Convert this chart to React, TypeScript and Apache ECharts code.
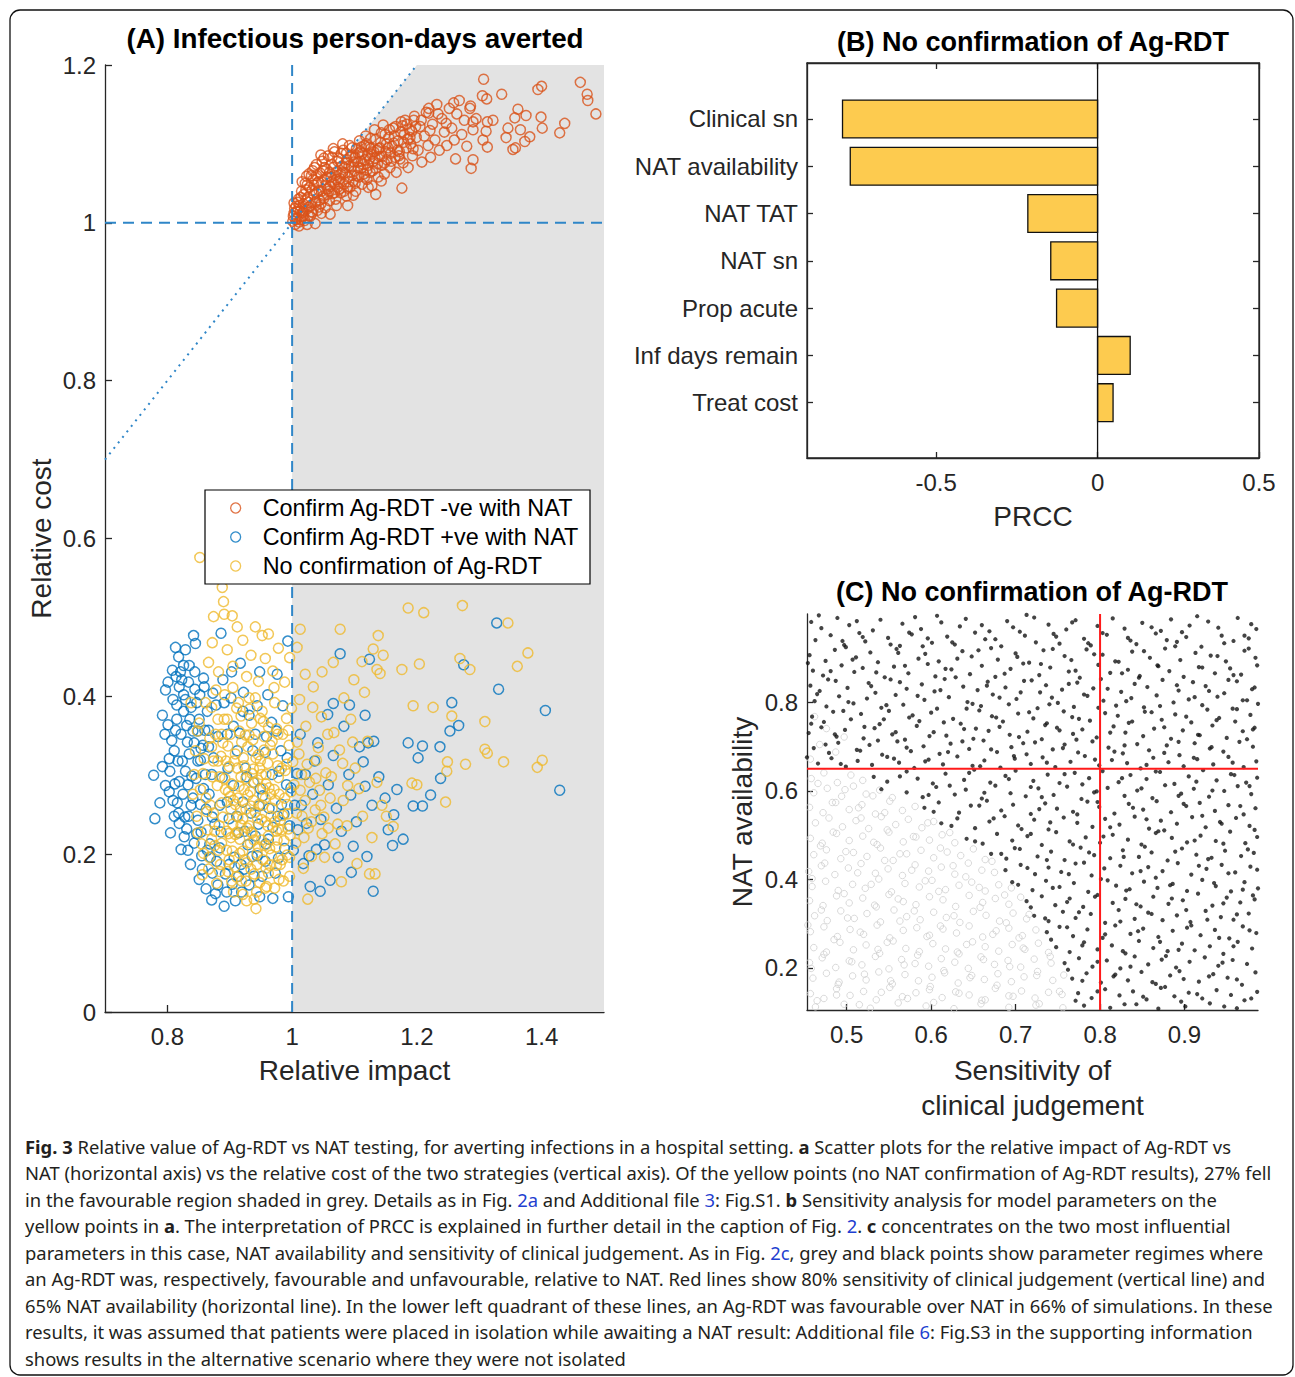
import React, { useEffect, useRef } from 'react';
import * as echarts from 'echarts';

const FONT = 'Liberation Sans';
const AX = '#262626';

// ---------- Panel A data ----------
const legendNames = ['Confirm Ag-RDT -ve with NAT', 'Confirm Ag-RDT +ve with NAT', 'No confirmation of Ag-RDT'];
const aXRange = [0.7, 1.5];
const aYRange = [0, 1.2];
const aTicksX = [0.8, 1, 1.2, 1.4];
const favourableEdge = [[1, 1], [1.2, 1.2], [1.5, 1.2]];
const diagLine = [[0.7, 0.7], [1.2, 1.2]];
const impactRef = [[1, 0], [1, 1.2]];
const costRef = [[0.7, 1], [1.5, 1]];

const orangePts = [
  [1.001,1.002],[1.003,1.012],[1.005,0.998],[1.006,1.021],[1.008,1.006],[1.010,1.030],[1.011,1.001],[1.013,1.015],[1.015,1.040],[1.016,1.008],[1.018,1.024],[1.020,1.003],[1.021,1.050],[1.023,1.017],[1.025,1.032],[1.026,1.009],[1.028,1.045],[1.030,1.022],[1.031,1.060],[1.033,1.013],[1.035,1.036],[1.036,1.070],[1.038,1.027],[1.040,1.050],[1.041,1.016],
  [1.043,1.041],[1.045,1.063],[1.046,1.024],[1.048,1.078],[1.050,1.034],[1.052,1.055],[1.053,1.019],[1.055,1.068],[1.057,1.043],[1.058,1.085],[1.060,1.028],[1.062,1.058],[1.063,1.074],[1.065,1.037],[1.067,1.050],[1.068,1.090],[1.070,1.030],[1.072,1.065],[1.073,1.045],[1.075,1.082],[1.077,1.056],[1.078,1.038],[1.080,1.072],
  [1.082,1.092],[1.083,1.049],[1.085,1.063],[1.087,1.034],[1.088,1.080],[1.090,1.058],[1.092,1.098],[1.093,1.045],[1.095,1.071],[1.097,1.086],[1.098,1.053],[1.100,1.066],[1.102,1.040],[1.103,1.094],[1.105,1.077],[1.107,1.058],[1.108,1.104],[1.110,1.069],[1.112,1.049],[1.113,1.088],[1.115,1.062],[1.117,1.080],[1.118,1.110],[1.120,1.055],[1.122,1.073],[1.123,1.096],[1.125,1.064],[1.127,1.087],[1.128,1.047],
  [1.130,1.078],[1.132,1.118],[1.134,1.069],[1.136,1.092],[1.138,1.058],[1.140,1.084],[1.142,1.102],[1.144,1.073],[1.146,1.124],[1.148,1.062],[1.150,1.090],[1.152,1.080],[1.155,1.108],[1.157,1.070],[1.160,1.097],[1.162,1.120],[1.165,1.083],[1.167,1.064],[1.170,1.104],[1.172,1.090],[1.175,1.128],[1.178,1.076],[1.180,1.112],[1.183,1.095],[1.186,1.070],[1.188,1.118],[1.190,1.100],[1.193,1.085],[1.196,1.135],[1.199,1.108],
  [1.202,1.092],[1.205,1.122],[1.208,1.077],[1.212,1.110],[1.215,1.140],[1.218,1.098],[1.222,1.083],[1.225,1.125],[1.229,1.105],[1.232,1.150],[1.236,1.092],[1.240,1.132],[1.244,1.115],[1.248,1.098],[1.252,1.145],[1.256,1.120],[1.260,1.105],[1.264,1.138],[1.268,1.155],[1.272,1.112],[1.276,1.130],[1.280,1.097],[1.285,1.145],[1.290,1.118],[1.295,1.132],
  [1.004,1.018],[1.009,1.026],[1.014,1.004],[1.019,1.036],[1.024,1.048],[1.029,1.008],[1.034,1.055],[1.039,1.038],[1.044,1.029],[1.049,1.066],[1.054,1.048],[1.059,1.040],[1.064,1.083],[1.069,1.060],[1.074,1.052],[1.079,1.088],[1.084,1.070],[1.089,1.044],[1.094,1.084],[1.099,1.077],[1.104,1.060],[1.109,1.090],[1.114,1.074],[1.119,1.100],[1.124,1.081],[1.129,1.066],[1.134,1.106],[1.139,1.094],[1.144,1.084],[1.149,1.112],[1.154,1.095],[1.159,1.078],[1.164,1.110],[1.169,1.092],[1.174,1.115],[1.179,1.102],[1.184,1.125],[1.189,1.108],[1.194,1.094],[1.198,1.122],
  [1.002,1.008],[1.007,1.014],[1.012,1.022],[1.017,1.013],[1.022,1.028],[1.027,1.020],[1.032,1.041],[1.037,1.025],[1.042,1.052],[1.047,1.040],[1.051,1.031],[1.056,1.058],[1.061,1.046],[1.066,1.070],[1.071,1.055],[1.076,1.043],[1.081,1.064],[1.086,1.076],[1.091,1.052],[1.096,1.095],[1.101,1.083],[1.106,1.070],[1.111,1.096],[1.116,1.058],[1.121,1.086],[1.126,1.107],[1.131,1.090],[1.137,1.075],[1.143,1.114],[1.151,1.100],[1.158,1.088],[1.166,1.122],[1.173,1.081],[1.181,1.130],[1.192,1.116],[1.207,1.130],[1.221,1.117],[1.234,1.138],[1.247,1.126],[1.259,1.152],[1.016,1.052],[1.027,1.062],[1.039,1.074],[1.051,1.082],[1.066,1.094],[1.081,1.100],[1.011,0.996],[1.047,1.012],[1.071,1.022],[1.098,1.035],[1.122,1.045],[1.143,1.053],
  [1.003,1.025],[1.006,1.004],[1.010,1.017],[1.014,1.032],[1.018,1.009],[1.022,1.042],[1.026,1.026],[1.031,1.014],[1.035,1.048],[1.039,1.060],[1.043,1.020],[1.047,1.052],[1.052,1.070],[1.056,1.036],[1.060,1.064],[1.064,1.052],[1.068,1.038],[1.073,1.078],[1.078,1.062],[1.083,1.040],[1.087,1.088],[1.091,1.072],[1.096,1.060],[1.101,1.050],[1.106,1.088],[1.111,1.078],[1.116,1.098],[1.120,1.067],[1.126,1.094],[1.133,1.082],[1.141,1.095],[1.148,1.076],[1.156,1.118],[1.163,1.101],[1.171,1.085],[1.177,1.123],[1.186,1.106],[1.023,1.059],[1.033,1.066],[1.046,1.086],
  [1.307,1.182],[1.394,1.169],[1.400,1.173],[1.462,1.178],[1.473,1.163],[1.474,1.155],[1.487,1.138],[1.336,1.163],[1.305,1.161],[1.312,1.157],[1.286,1.148],[1.362,1.144],[1.375,1.136],[1.357,1.133],[1.399,1.134],[1.401,1.120],[1.437,1.126],[1.429,1.114],[1.346,1.120],[1.343,1.108],[1.366,1.118],[1.381,1.109],[1.373,1.103],[1.354,1.093],[1.358,1.095],[1.313,1.128],[1.322,1.130],[1.311,1.116],[1.306,1.105],[1.313,1.096],[1.290,1.080],[1.287,1.069],[1.262,1.081],[1.290,1.128],[1.219,1.145],[1.219,1.139],[1.195,1.130],[1.176,1.044],[1.134,1.036],[1.089,1.022],[1.037,0.999],[1.024,0.998],[1.061,1.011]
];

const bluePts = [
  [0.797,0.408],[0.792,0.376],[0.778,0.300],[0.792,0.311],[0.788,0.265],[0.780,0.245],[0.805,0.227],
  [0.813,0.462],[0.829,0.459],[0.818,0.450],[0.842,0.477],[0.845,0.467],[0.886,0.480],
  [0.821,0.431],[0.834,0.418],[0.809,0.396],[0.826,0.402],[0.838,0.386],[0.815,0.371],[0.847,0.392],[0.831,0.363],[0.851,0.371],[0.822,0.352],[0.807,0.344],[0.843,0.341],[0.860,0.357],[0.835,0.327],[0.817,0.318],[0.853,0.319],[0.829,0.305],[0.866,0.336],[0.812,0.289],[0.846,0.296],[0.825,0.276],[0.858,0.283],[0.838,0.262],[0.818,0.252],[0.871,0.301],[0.849,0.243],[0.831,0.232],[0.862,0.257],[0.843,0.214],[0.876,0.238],[0.855,0.198],[0.822,0.206],[0.868,0.213],[0.837,0.187],[0.884,0.262],[0.851,0.168],[0.879,0.191],[0.862,0.156],[0.893,0.175],[0.871,0.142],[0.877,0.150],[0.891,0.134],[0.904,0.162],[0.948,0.146],[0.969,0.144],[0.994,0.146],[0.919,0.152],
  [0.811,0.331],[0.824,0.318],[0.803,0.279],[0.833,0.288],[0.816,0.265],[0.828,0.247],[0.841,0.356],[0.857,0.338],[0.813,0.357],[0.826,0.381],[0.852,0.402],[0.835,0.439],[0.858,0.423],[0.819,0.412],[0.873,0.404],[0.864,0.381],
  [0.801,0.418],[0.808,0.433],[0.815,0.389],[0.823,0.421],[0.829,0.396],[0.836,0.371],[0.844,0.409],[0.849,0.356],[0.854,0.334],[0.861,0.301],[0.867,0.276],[0.874,0.322],[0.881,0.349],[0.888,0.297],[0.796,0.352],[0.803,0.321],[0.809,0.268],[0.819,0.239],[0.827,0.222],[0.834,0.248],[0.841,0.271],[0.847,0.226],[0.856,0.181],[0.864,0.205],[0.872,0.176],[0.881,0.161],[0.895,0.152],[0.909,0.141],[0.931,0.161],[0.952,0.172],[0.978,0.195],[0.996,0.236],[0.991,0.288],[0.982,0.331],[0.967,0.367],[0.944,0.388],[0.922,0.405],[0.903,0.431],[0.896,0.266],[0.911,0.248],[0.927,0.298],[0.949,0.283],[0.963,0.258],[0.918,0.187],[0.941,0.223],
  [0.804,0.305],[0.811,0.248],[0.814,0.425],[0.819,0.292],[0.826,0.439],[0.832,0.342],[0.839,0.299],[0.844,0.431],[0.849,0.318],[0.853,0.263],[0.859,0.412],[0.866,0.357],[0.872,0.247],[0.878,0.389],[0.797,0.287],[0.801,0.364],[0.833,0.205],[0.854,0.228],[0.869,0.196],[0.884,0.208],[0.899,0.187],[0.914,0.172],[0.936,0.197],[0.958,0.213],[0.969,0.234],[0.987,0.251],[0.998,0.284],[0.979,0.305],[0.959,0.349],[0.937,0.331],[0.921,0.381],[0.906,0.362],[0.891,0.392],[0.924,0.229],[0.947,0.261],[1.002,0.205],[1.008,0.302],[1.015,0.262],[1.023,0.239],[1.039,0.206],
  [0.889,0.421],[0.902,0.398],[0.917,0.442],[0.931,0.376],[0.896,0.352],[0.912,0.331],[0.925,0.309],[0.941,0.352],[0.957,0.329],[0.906,0.287],[0.921,0.266],[0.938,0.291],[0.953,0.274],[0.968,0.301],[0.899,0.245],[0.914,0.227],[0.929,0.212],[0.946,0.238],[0.962,0.219],[0.977,0.248],[0.907,0.196],[0.923,0.181],[0.939,0.172],[0.957,0.191],[0.973,0.176],[0.988,0.207],[0.983,0.263],[0.992,0.322],[0.975,0.356],[0.961,0.402],[0.948,0.431],[0.976,0.428],[0.993,0.470],[0.985,0.388],[0.934,0.252],[0.944,0.198],[0.916,0.353],[0.897,0.309],[0.886,0.228],
  [1.004,0.262],[1.009,0.231],[1.021,0.301],[1.027,0.198],[1.033,0.276],[1.041,0.341],[1.046,0.244],[1.052,0.212],[1.058,0.288],[1.066,0.325],[1.071,0.258],[1.079,0.229],[1.083,0.362],[1.091,0.301],[1.094,0.275],[1.103,0.241],[1.108,0.336],[1.114,0.317],[1.117,0.286],[1.128,0.262],[1.131,0.343],[1.139,0.298],[1.149,0.271],[1.154,0.231],[1.168,0.282],[1.178,0.219],[1.161,0.211],[1.194,0.261],[1.209,0.261],[1.238,0.296],[1.237,0.336],[1.209,0.337],[1.267,0.363],[1.253,0.356],[1.256,0.392],[1.222,0.275],[1.202,0.322],[1.186,0.341],[1.163,0.250],[1.120,0.197],[1.098,0.210],[1.095,0.177],[1.061,0.167],[1.029,0.159],[1.045,0.153],[1.130,0.153],[1.117,0.376],[1.066,0.391],[1.092,0.389],[1.122,0.341],[1.077,0.454],[1.124,0.447],[1.275,0.440],[1.328,0.493],[1.331,0.409],[1.406,0.382],[1.429,0.281],[1.013,0.352],[1.036,0.318],[1.057,0.377],[1.018,0.188],[1.074,0.196]
];

const yellowPts = [
  [0.852,0.576],[0.888,0.538],[0.890,0.520],[0.874,0.501],[0.891,0.504],[0.904,0.502],[0.941,0.488],[0.912,0.488],[0.952,0.477],[0.962,0.479],[1.013,0.485],[1.077,0.485],[1.138,0.477],[1.186,0.512],[1.211,0.506],[1.273,0.515],[1.346,0.493],[1.378,0.455],[1.269,0.448],[1.285,0.434],[1.361,0.438],[1.204,0.441],[1.176,0.434],[1.146,0.452],[1.130,0.460],[1.112,0.444],[1.066,0.443],[1.099,0.421],[1.136,0.434],[1.141,0.429],
  [0.872,0.468],[0.896,0.459],[0.921,0.471],[0.934,0.452],[0.957,0.448],[0.978,0.461],[0.996,0.449],[1.008,0.462],[0.866,0.443],[0.882,0.431],[0.905,0.438],[0.927,0.425],[0.946,0.419],[0.969,0.432],[0.988,0.418],[1.021,0.428],[1.034,0.412],[1.048,0.431],
  [0.838,0.392],[0.851,0.366],[0.845,0.331],[0.857,0.302],[0.841,0.276],[0.863,0.254],[0.849,0.227],[0.858,0.201],[0.866,0.181],[0.871,0.386],[0.877,0.352],[0.874,0.318],[0.880,0.287],[0.869,0.262],[0.883,0.236],[0.876,0.211],[0.885,0.187],[0.879,0.163],[0.892,0.402],[0.896,0.371],[0.889,0.341],[0.899,0.311],[0.893,0.282],[0.902,0.257],[0.895,0.229],[0.904,0.204],[0.897,0.178],[0.906,0.152],[0.911,0.385],[0.915,0.356],[0.909,0.327],[0.918,0.298],[0.913,0.271],[0.921,0.245],[0.916,0.219],[0.924,0.193],[0.919,0.166],[0.927,0.141],[0.931,0.398],[0.935,0.366],[0.929,0.336],[0.938,0.308],[0.933,0.279],[0.941,0.253],[0.936,0.227],[0.944,0.201],[0.939,0.175],[0.942,0.131],[0.952,0.381],[0.955,0.349],[0.949,0.318],[0.958,0.289],[0.953,0.262],[0.961,0.236],[0.956,0.211],[0.964,0.186],[0.959,0.159],[0.972,0.392],[0.975,0.359],[0.969,0.327],[0.978,0.297],[0.973,0.268],[0.981,0.243],[0.976,0.218],[0.984,0.193],[0.979,0.168],[0.991,0.372],[0.995,0.338],[0.989,0.306],[0.998,0.279],[0.993,0.251],[0.997,0.224],[0.992,0.199],[0.996,0.172],
  [0.884,0.298],[0.901,0.273],[0.912,0.309],[0.923,0.282],[0.934,0.261],[0.945,0.294],[0.957,0.271],[0.966,0.248],[0.905,0.238],[0.917,0.256],[0.928,0.233],[0.939,0.218],[0.951,0.244],[0.962,0.223],[0.974,0.209],[0.887,0.214],[0.898,0.226],[0.909,0.263],[0.926,0.296],[0.948,0.309],[0.971,0.282],[0.921,0.204],[0.944,0.187],[0.967,0.199],[0.983,0.231],
  [0.861,0.392],[0.868,0.347],[0.872,0.298],[0.864,0.231],[0.882,0.205],[0.887,0.265],[0.894,0.318],[0.901,0.352],[0.905,0.411],[0.908,0.184],[0.913,0.247],[0.918,0.375],[0.922,0.322],[0.926,0.166],[0.929,0.275],[0.933,0.214],[0.937,0.345],[0.941,0.398],[0.943,0.152],[0.947,0.263],[0.951,0.218],[0.954,0.368],[0.958,0.301],[0.962,0.176],[0.965,0.338],[0.968,0.258],[0.971,0.411],[0.977,0.312],[0.981,0.187],[0.985,0.352],[0.988,0.271],[0.994,0.232],[0.999,0.385],[1.003,0.288],[1.006,0.214],[1.011,0.327],[1.016,0.248],[1.022,0.362],[1.028,0.291],[1.031,0.197],[1.037,0.256],[1.042,0.335],[1.048,0.226],[1.054,0.303],[1.061,0.271],[1.067,0.354],[1.073,0.238],[1.081,0.315],[1.089,0.287],[1.097,0.342],[0.878,0.408],[0.891,0.371],[0.899,0.193],[0.915,0.286],[0.931,0.236],[0.946,0.326],[0.953,0.193],[0.963,0.284],[0.978,0.232],[0.991,0.314],[0.919,0.342],[0.909,0.225],[0.926,0.257],[0.939,0.291],[0.957,0.241],[0.948,0.164],[0.934,0.181],[0.972,0.157],[0.986,0.166],[0.903,0.289],[0.886,0.324],[0.874,0.252],[0.853,0.282],[0.847,0.248],[0.859,0.321],
  [0.843,0.301],[0.848,0.356],[0.855,0.213],[0.862,0.271],[0.867,0.196],[0.871,0.336],[0.876,0.229],[0.881,0.371],[0.884,0.178],[0.889,0.247],[0.892,0.296],[0.897,0.337],[0.902,0.221],[0.906,0.268],[0.911,0.171],[0.914,0.392],[0.918,0.237],[0.923,0.312],[0.927,0.189],[0.931,0.351],[0.934,0.228],[0.938,0.268],[0.942,0.322],[0.946,0.209],[0.949,0.372],[0.953,0.283],[0.957,0.157],[0.961,0.315],[0.964,0.207],[0.968,0.343],[0.972,0.241],[0.975,0.186],[0.979,0.276],[0.983,0.309],[0.987,0.217],[0.992,0.263],[0.996,0.196],[1.001,0.317],[1.007,0.252],[1.013,0.281],[1.019,0.221],[1.024,0.314],[1.031,0.241],[1.038,0.296],[1.046,0.262],[1.058,0.233],[0.887,0.352],[0.898,0.279],[0.907,0.318],[0.916,0.201],[0.925,0.351],[0.936,0.302],[0.944,0.246],[0.955,0.332],[0.966,0.276],[0.977,0.352],[0.985,0.249],[0.994,0.357],[0.903,0.166],[0.921,0.149],[0.939,0.143],[0.958,0.182],[0.932,0.384],[0.912,0.228],[0.895,0.205],[0.871,0.219],[0.881,0.318],[0.951,0.301],[0.962,0.361],[0.975,0.229],
  [1.008,0.342],[1.015,0.301],[1.021,0.268],[1.026,0.233],[1.033,0.386],[1.039,0.319],[1.044,0.281],[1.051,0.247],[1.057,0.352],[1.063,0.298],[1.069,0.213],[1.076,0.332],[1.082,0.268],[1.088,0.236],[1.094,0.371],[1.101,0.309],[1.107,0.283],[1.113,0.248],[1.121,0.343],[1.128,0.221],[1.136,0.291],[1.144,0.262],[1.151,0.248],[1.162,0.235],[1.124,0.175],[1.133,0.175],[1.025,0.143],[0.856,0.174],[1.192,0.290],[1.200,0.288],[1.194,0.388],[1.226,0.386],[1.256,0.375],[1.309,0.368],[1.339,0.317],[1.309,0.333],[1.313,0.328],[1.393,0.310],[1.401,0.319],[1.278,0.314],[1.246,0.266],[1.249,0.317],[1.248,0.305],[1.012,0.396],[1.047,0.374],[1.083,0.398],[1.116,0.405],[1.018,0.182],[1.052,0.196],[1.079,0.165],[1.104,0.188]
];

// ---------- Panel B data ----------
const bParams = ['Clinical sn', 'NAT availability', 'NAT TAT', 'NAT sn', 'Prop acute', 'Inf days remain', 'Treat cost'];
const bPrcc = [-0.79, -0.766, -0.216, -0.145, -0.127, 0.101, 0.048];
const bXRange = [-0.9, 0.5];
const bYRange = [-0.184, 8.17];
const bTicksX = [-0.5, 0, 0.5];
const bTicksY = [1, 2, 3, 4, 5, 6, 7];

// ---------- Panel C data ----------
const cXRange = [0.453, 0.987];
const cYRange = [0.105, 1.0];
const cTicksX = [0.5, 0.6, 0.7, 0.8, 0.9];
const cTicksY = [0.2, 0.4, 0.6, 0.8];
const cSensCut = 0.8;
const cAvailCut = 0.65;

// unfavourable (black) points, band by band: [sensitivity values, availability values]
const cBlackBands = [
  [[.458,.470,.489,.503,.531,.540,.566,.581,.588,.612,.634,.641,.669,.690,.697,.722,.739,.760,.771,.797,.815,.829,.850,.872,.884,.906,.928,.940,.963,.979],
   [.982,.968,.991,.975,.963,.987,.978,.993,.966,.981,.972,.989,.961,.984,.970,.992,.976,.965,.986,.973,.990,.967,.980,.962,.988,.974,.983,.969,.991,.977]],
  [[.463,.481,.497,.515,.522,.549,.563,.577,.601,.619,.628,.652,.664,.683,.711,.724,.745,.752,.781,.789,.808,.836,.843,.866,.891,.902,.920,.944,.958,.976],
   [.941,.952,.930,.957,.938,.946,.928,.954,.935,.949,.931,.958,.943,.927,.951,.936,.955,.933,.944,.929,.953,.940,.932,.956,.937,.948,.926,.951,.939,.945]],
  [[.456,.475,.486,.511,.528,.537,.559,.585,.593,.609,.637,.648,.671,.679,.700,.716,.733,.758,.766,.784,.803,.822,.838,.859,.877,.895,.913,.931,.949,.971,.984],
   [.907,.894,.919,.902,.913,.891,.921,.899,.910,.893,.916,.904,.923,.897,.911,.890,.918,.905,.896,.920,.908,.892,.915,.901,.922,.896,.912,.906,.893,.917,.901]],
  [[.460,.472,.494,.509,.519,.545,.556,.573,.596,.605,.624,.646,.660,.676,.694,.709,.728,.741,.763,.776,.798,.812,.833,.847,.869,.882,.899,.917,.936,.954,.967,.986],
   [.872,.861,.884,.869,.878,.857,.881,.866,.887,.859,.875,.864,.883,.858,.876,.888,.862,.879,.870,.856,.885,.867,.874,.860,.882,.871,.858,.880,.866,.877,.863,.884]],
  [[.457,.468,.487,.501,.526,.534,.552,.571,.589,.604,.616,.638,.655,.667,.688,.706,.719,.736,.755,.773,.792,.801,.825,.841,.856,.874,.893,.910,.925,.947,.962,.980],
   [.838,.826,.849,.833,.844,.822,.852,.831,.841,.825,.853,.836,.828,.847,.834,.823,.850,.839,.829,.845,.832,.853,.824,.842,.835,.851,.827,.846,.837,.821,.848,.830]],
  [[.462,.476,.491,.508,.524,.541,.558,.567,.592,.607,.621,.643,.659,.673,.692,.701,.726,.743,.750,.769,.785,.804,.819,.837,.852,.867,.887,.905,.921,.939,.957,.974,.987],
   [.803,.791,.814,.798,.809,.788,.817,.795,.806,.786,.812,.801,.792,.818,.796,.808,.787,.811,.799,.790,.815,.804,.793,.810,.789,.816,.800,.807,.794,.813,.786,.805,.797]],
  [[.459,.473,.484,.505,.517,.539,.550,.574,.586,.600,.626,.635,.657,.672,.685,.703,.721,.737,.757,.767,.788,.806,.821,.834,.861,.873,.889,.908,.927,.941,.960,.978],
   [.768,.756,.779,.762,.774,.751,.781,.766,.758,.777,.763,.752,.782,.769,.757,.775,.764,.753,.780,.767,.759,.776,.770,.754,.778,.761,.773,.755,.784,.765,.757,.772]],
  [[.455,.470,.488,.498,.520,.533,.554,.569,.583,.603,.618,.639,.650,.668,.681,.704,.714,.731,.749,.768,.779,.796,.816,.830,.851,.864,.884,.898,.916,.933,.950,.969,.983],
   [.731,.744,.723,.738,.719,.742,.728,.716,.747,.733,.725,.740,.718,.736,.745,.722,.734,.717,.743,.729,.739,.721,.746,.732,.724,.741,.718,.737,.727,.748,.720,.735,.743]],
  [[.461,.479,.490,.512,.527,.542,.560,.576,.591,.610,.623,.645,.662,.678,.695,.713,.723,.744,.758,.774,.791,.810,.827,.844,.858,.879,.894,.912,.930,.946,.965,.981],
   [.697,.686,.709,.693,.704,.682,.712,.690,.701,.684,.707,.695,.714,.688,.699,.683,.710,.694,.705,.687,.712,.698,.685,.706,.692,.703,.681,.708,.696,.689,.711,.700]],
  [[.466,.482,.499,.513,.530,.548,.562,.580,.597,.614,.631,.649,.663,.682,.699,.718,.732,.747,.765,.782,.799,.814,.832,.848,.863,.881,.899,.915,.934,.952,.970,.985],
   [.662,.674,.655,.668,.659,.677,.664,.652,.671,.660,.678,.657,.669,.653,.673,.661,.676,.654,.666,.679,.658,.670,.663,.651,.675,.665,.656,.672,.660,.677,.654,.667]],
  [[.532,.548,.571,.584,.602,.617,.639,.651,.670,.688,.700,.721,.738,.752,.770,.787,.803,.822,.836,.855,.871,.888,.905,.922,.938,.955,.973,.986],
   [.632,.621,.644,.628,.617,.639,.625,.648,.619,.634,.646,.623,.637,.618,.641,.629,.645,.620,.636,.627,.643,.616,.633,.647,.624,.638,.619,.630]],
  [[.571,.590,.606,.628,.641,.660,.676,.694,.712,.727,.745,.761,.778,.796,.809,.829,.844,.862,.877,.896,.911,.929,.947,.963,.979],
   [.597,.586,.609,.592,.603,.583,.612,.595,.588,.606,.591,.610,.582,.599,.607,.589,.601,.584,.613,.594,.605,.587,.600,.611,.593]],
  [[.592,.609,.633,.647,.666,.683,.697,.718,.735,.749,.768,.785,.799,.817,.834,.851,.867,.884,.902,.918,.936,.952,.970,.984],
   [.562,.574,.551,.567,.578,.556,.569,.548,.572,.560,.553,.576,.564,.549,.571,.558,.577,.552,.566,.573,.555,.568,.547,.561]],
  [[.612,.631,.652,.669,.687,.703,.722,.739,.757,.773,.791,.806,.823,.841,.858,.872,.891,.909,.925,.942,.961,.977],
   [.527,.538,.516,.531,.543,.522,.535,.513,.540,.528,.519,.537,.524,.542,.515,.533,.526,.541,.518,.530,.539,.521]],
  [[.642,.661,.678,.696,.714,.731,.748,.764,.783,.800,.815,.833,.849,.866,.885,.903,.919,.937,.954,.972,.986],
   [.492,.481,.503,.488,.498,.478,.507,.486,.495,.483,.501,.490,.479,.505,.494,.484,.499,.487,.508,.482,.496]],
  [[.671,.689,.705,.726,.742,.758,.777,.793,.812,.827,.846,.861,.880,.897,.914,.932,.948,.967,.982],
   [.458,.447,.469,.452,.463,.444,.472,.455,.448,.466,.451,.461,.443,.470,.456,.449,.465,.453,.460]],
  [[.688,.706,.723,.739,.754,.771,.790,.805,.824,.838,.857,.874,.892,.908,.926,.944,.960,.978],
   [.421,.433,.412,.427,.417,.436,.409,.425,.431,.414,.428,.419,.437,.411,.424,.433,.416,.429]],
  [[.703,.720,.736,.752,.769,.786,.801,.819,.835,.852,.868,.886,.903,.921,.937,.955,.971,.987],
   [.388,.376,.397,.383,.392,.372,.401,.386,.378,.395,.381,.390,.374,.399,.385,.373,.394,.380]],
  [[.713,.731,.747,.764,.780,.797,.815,.830,.848,.863,.881,.898,.916,.933,.950,.966,.983],
   [.351,.362,.342,.357,.338,.365,.347,.356,.339,.361,.345,.353,.368,.341,.359,.348,.355]],
  [[.722,.739,.756,.771,.789,.806,.822,.841,.857,.874,.891,.907,.925,.943,.958,.976],
   [.318,.306,.327,.313,.322,.302,.331,.311,.325,.308,.319,.304,.329,.315,.309,.323]],
  [[.737,.752,.768,.785,.803,.818,.836,.851,.869,.886,.903,.919,.936,.953,.969,.985],
   [.281,.293,.272,.287,.268,.296,.277,.289,.270,.284,.291,.274,.286,.267,.294,.279]],
  [[.748,.764,.781,.797,.814,.830,.846,.863,.880,.897,.912,.930,.946,.963,.980],
   [.247,.236,.258,.242,.251,.233,.261,.245,.238,.255,.240,.249,.232,.259,.244]],
  [[.758,.775,.791,.808,.824,.841,.857,.873,.890,.906,.924,.940,.957,.974],
   [.211,.222,.203,.217,.199,.226,.208,.219,.201,.214,.224,.205,.218,.209]],
  [[.767,.784,.801,.816,.833,.849,.866,.883,.899,.917,.934,.951,.968,.984],
   [.176,.188,.167,.181,.172,.191,.164,.183,.175,.169,.186,.178,.162,.190]],
  [[.774,.790,.806,.823,.839,.855,.872,.888,.905,.921,.938,.955,.971,.986],
   [.143,.132,.152,.138,.147,.129,.155,.136,.144,.131,.150,.139,.127,.146]],
  [[.781,.812,.843,.869,.901,.930,.962],
   [.115,.110,.118,.108,.113,.120,.109]],
  // second reading pass
  [[.452,.467,.495,.512,.519,.552,.574,.596,.607,.625,.660,.676,.705,.713,.748,.767,.786,.803,.833,.861,.879,.897,.915,.947,.971,.985],
   [.952,.997,.939,.984,.948,.931,.958,.945,.996,.936,.975,.943,.960,.998,.949,.981,.934,.957,.946,.970,.941,.959,.995,.934,.951,.966]],
  [[.454,.481,.499,.507,.535,.561,.569,.590,.617,.631,.656,.687,.702,.730,.744,.771,.793,.818,.826,.852,.868,.889,.921,.939,.958,.976],
   [.889,.871,.925,.897,.868,.912,.883,.927,.876,.899,.918,.865,.903,.887,.921,.872,.909,.893,.866,.916,.884,.927,.879,.905,.862,.922]],
  [[.465,.478,.502,.529,.547,.563,.584,.611,.629,.649,.666,.681,.710,.729,.740,.763,.781,.809,.831,.846,.871,.891,.912,.929,.952,.969,.983],
   [.819,.852,.801,.837,.794,.846,.815,.828,.857,.797,.838,.811,.849,.823,.796,.842,.818,.831,.803,.856,.792,.839,.812,.826,.851,.805,.834]],
  [[.458,.486,.496,.521,.544,.558,.578,.598,.615,.642,.653,.677,.693,.716,.735,.752,.775,.798,.812,.838,.853,.876,.902,.918,.938,.962,.981],
   [.752,.728,.781,.745,.762,.733,.771,.724,.755,.786,.741,.766,.727,.778,.749,.737,.763,.788,.732,.757,.779,.744,.768,.726,.760,.785,.739]],
  [[.453,.475,.493,.516,.537,.556,.571,.593,.620,.637,.658,.671,.698,.709,.737,.756,.772,.794,.817,.829,.855,.876,.893,.911,.932,.957,.974],
   [.676,.705,.661,.691,.714,.673,.698,.667,.688,.712,.656,.694,.679,.708,.664,.697,.716,.671,.689,.703,.659,.686,.711,.675,.699,.664,.717]],
  [[.541,.563,.597,.622,.645,.663,.692,.718,.731,.758,.779,.793,.826,.849,.866,.893,.914,.933,.959,.977],
   [.604,.633,.591,.612,.641,.596,.627,.609,.586,.638,.615,.597,.629,.606,.644,.589,.621,.601,.636,.611]],
  [[.603,.624,.657,.674,.707,.728,.741,.773,.797,.812,.839,.855,.876,.899,.921,.944,.966,.983],
   [.553,.521,.567,.538,.514,.559,.529,.547,.575,.518,.562,.536,.511,.571,.544,.526,.566,.512]],
  [[.652,.683,.699,.718,.737,.768,.787,.804,.828,.853,.869,.889,.912,.928,.946,.975],
   [.486,.458,.471,.503,.444,.479,.461,.497,.451,.474,.509,.463,.488,.446,.481,.468]],
  [[.696,.714,.744,.763,.781,.809,.831,.848,.866,.883,.917,.935,.952,.969,.986],
   [.394,.426,.381,.412,.438,.398,.375,.419,.404,.387,.431,.392,.414,.377,.422]],
  [[.718,.735,.761,.775,.794,.824,.843,.861,.885,.902,.927,.946,.962,.981],
   [.337,.312,.349,.326,.361,.305,.344,.322,.357,.331,.309,.346,.321,.364]],
  [[.742,.761,.779,.806,.827,.845,.871,.893,.908,.941,.958,.977],
   [.264,.292,.251,.276,.238,.283,.259,.241,.296,.268,.249,.285]],
  [[.762,.779,.797,.818,.836,.862,.878,.894,.929,.945,.962,.988],
   [.196,.171,.214,.185,.203,.168,.227,.193,.181,.212,.174,.199]],
  [[.771,.797,.829,.851,.877,.896,.915,.947,.979],
   [.126,.147,.118,.135,.157,.124,.141,.113,.131]]
];

// favourable (grey) points
const cGreyBands = [
  [[.457,.468,.476,.462,.487,.497],[.672,.705,.741,.768,.688,.722]],
  [[.458,.473,.489,.505,.519],[.628,.641,.619,.636,.624]],
  [[.461,.477,.494,.508,.523,.539,.554],[.596,.606,.588,.611,.593,.602,.585]],
  [[.456,.472,.487,.503,.518,.534,.551,.566,.581],[.563,.551,.574,.558,.569,.548,.577,.556,.565]],
  [[.463,.479,.495,.511,.526,.541,.558,.573,.589,.603],[.528,.539,.519,.533,.515,.542,.524,.536,.517,.531]],
  [[.457,.471,.488,.503,.519,.536,.550,.567,.582,.598,.613,.628],[.493,.482,.504,.488,.498,.479,.507,.485,.496,.489,.501,.483]],
  [[.461,.476,.493,.508,.524,.540,.555,.571,.588,.603,.619,.635,.650,.664],[.456,.467,.447,.461,.452,.471,.443,.458,.466,.449,.462,.454,.469,.445]],
  [[.455,.470,.486,.502,.517,.534,.549,.566,.581,.597,.612,.628,.644,.660,.675],[.418,.431,.411,.426,.436,.414,.424,.409,.433,.419,.428,.412,.437,.421,.416]],
  [[.459,.475,.490,.507,.522,.538,.553,.569,.586,.601,.617,.633,.648,.664,.680,.695],[.384,.396,.375,.389,.380,.401,.372,.391,.383,.398,.377,.387,.394,.374,.388,.381]],
  [[.456,.472,.488,.503,.519,.535,.550,.567,.582,.598,.614,.629,.645,.661,.676,.692,.706],[.352,.341,.363,.347,.358,.338,.366,.350,.343,.361,.354,.339,.364,.348,.357,.344,.360]],
  [[.462,.477,.493,.509,.524,.540,.556,.571,.587,.603,.618,.634,.650,.665,.681,.697,.713],[.318,.307,.329,.312,.323,.304,.331,.316,.309,.326,.314,.303,.328,.319,.306,.324,.311]],
  [[.457,.473,.489,.504,.520,.536,.551,.567,.583,.598,.614,.630,.645,.661,.677,.692,.708,.724],[.282,.293,.271,.287,.276,.297,.268,.285,.291,.274,.288,.279,.295,.270,.284,.290,.273,.286]],
  [[.461,.476,.492,.508,.523,.539,.555,.570,.586,.602,.617,.633,.649,.664,.680,.696,.711,.727,.739],[.246,.236,.258,.241,.252,.233,.261,.244,.237,.255,.243,.232,.259,.248,.238,.253,.242,.256,.235]],
  [[.456,.471,.487,.503,.518,.534,.550,.565,.581,.597,.612,.628,.644,.659,.675,.691,.706,.722,.742],[.212,.223,.201,.216,.207,.226,.198,.219,.210,.204,.221,.213,.199,.225,.208,.217,.202,.220,.211]],
  [[.460,.476,.491,.507,.523,.538,.554,.569,.585,.601,.616,.632,.648,.663,.679,.695,.710,.726,.744,.757],[.177,.188,.168,.182,.173,.191,.164,.185,.171,.179,.189,.166,.183,.174,.187,.169,.180,.192,.172,.184]],
  [[.457,.473,.488,.504,.520,.535,.551,.566,.582,.598,.613,.629,.645,.660,.676,.692,.707,.723,.739,.755],[.142,.131,.153,.138,.147,.128,.156,.135,.144,.151,.133,.146,.139,.127,.154,.137,.148,.132,.145,.140]],
  [[.463,.497,.528,.561,.594,.627,.659,.692,.724,.756],[.112,.118,.109,.121,.114,.108,.119,.111,.116,.110]],
  // second reading pass
  [[.466,.483,.498,.514,.531,.545],[.617,.574,.603,.562,.589,.551]],
  [[.452,.469,.484,.499,.517,.532,.548,.563,.579,.596,.611,.622],[.521,.476,.507,.463,.539,.484,.512,.458,.497,.528,.471,.506]],
  [[.459,.474,.497,.513,.529,.545,.561,.577,.593,.609,.626,.641,.657,.672,.687],[.402,.437,.368,.415,.389,.443,.356,.421,.397,.373,.431,.406,.382,.441,.365]],
  [[.454,.470,.485,.501,.516,.533,.548,.563,.580,.595,.611,.627,.642,.658,.673,.689,.704,.716],[.297,.331,.264,.313,.281,.342,.258,.306,.329,.271,.295,.318,.253,.337,.276,.302,.268,.321]],
  [[.458,.473,.490,.506,.521,.537,.552,.568,.584,.599,.615,.631,.646,.662,.678,.693,.709,.725,.741],[.199,.231,.163,.214,.186,.242,.171,.207,.229,.158,.194,.236,.178,.219,.161,.203,.245,.183,.226]],
  [[.465,.488,.515,.541,.572,.603,.633,.664,.697,.728,.752],[.126,.139,.117,.145,.131,.122,.143,.128,.136,.119,.147]]
];

// ---------- Caption ----------
const captionLines = [
  '{b|Fig. 3} Relative value of Ag-RDT vs NAT testing, for averting infections in a hospital setting. {b|a} Scatter plots for the relative impact of Ag-RDT vs',
  'NAT (horizontal axis) vs the relative cost of the two strategies (vertical axis). Of the yellow points (no NAT confirmation of Ag-RDT results), 27% fell',
  'in the favourable region shaded in grey. Details as in Fig. {l|2a} and Additional file {l|3}: Fig.S1. {b|b} Sensitivity analysis for model parameters on the',
  'yellow points in {b|a}. The interpretation of PRCC is explained in further detail in the caption of Fig. {l|2}. {b|c} concentrates on the two most influential',
  'parameters in this case, NAT availability and sensitivity of clinical judgement. As in Fig. {l|2c}, grey and black points show parameter regimes where',
  'an Ag-RDT was, respectively, favourable and unfavourable, relative to NAT. Red lines show 80% sensitivity of clinical judgement (vertical line) and',
  '65% NAT availability (horizontal line). In the lower left quadrant of these lines, an Ag-RDT was favourable over NAT in 66% of simulations. In these',
  'results, it was assumed that patients were placed in isolation while awaiting a NAT result: Additional file {l|6}: Fig.S3 in the supporting information',
  'shows results in the alternative scenario where they were not isolated'
];

const zipBands = (bands: number[][][]) =>
  bands.flatMap(([xs, ys]) => xs.slice(0, Math.min(xs.length, ys.length)).map((x, i) => [x, ys[i]]));

const axisLineStyle = { show: true, onZero: false, lineStyle: { color: AX, width: 1.3 } };
const labelStyle = { fontSize: 24, fontFamily: FONT, color: AX };
const nameStyle = { fontSize: 28, fontFamily: FONT, color: AX };

function buildOption() {
  const capFont = 'Noto Sans';
  const capSize = 18.4;
  const caption = captionLines.map((t, i) => ({
    type: 'text',
    x: 25,
    y: 1146 + i * 26.5,
    style: {
      text: t,
      fontSize: capSize,
      fontFamily: capFont,
      fill: '#231f20',
      verticalAlign: 'middle',
      align: 'left',
      rich: {
        b: { fontSize: capSize, fontFamily: capFont, fontWeight: 'bold', fill: '#231f20' },
        l: { fontSize: capSize, fontFamily: capFont, fill: '#1f3fd0' }
      }
    }
  }));

  const title = (text: string, x: number, y: number, size: number) => ({
    type: 'text',
    x,
    y,
    style: { text, fontSize: size, fontWeight: 'bold', fontFamily: FONT, fill: '#000', align: 'center', verticalAlign: 'middle' }
  });

  const openCircle = (color: string) => ({ color: 'rgba(0,0,0,0)', borderColor: color, borderWidth: 1.5 });

  return {
    animation: false,
    backgroundColor: '#fff',
    graphic: [
      { type: 'rect', shape: { x: 10, y: 10, width: 1283, height: 1365, r: 10 }, style: { fill: 'none', stroke: '#111', lineWidth: 1.3 }, silent: true },
      title('(A) Infectious person-days averted', 355, 38, 27.8),
      title('(B) No confirmation of Ag-RDT', 1033, 42, 27),
      title('(C) No confirmation of Ag-RDT', 1032, 592, 27),
      ...caption
    ],
    legend: {
      data: legendNames,
      orient: 'vertical',
      left: 205,
      top: 490,
      padding: [6, 10, 6, 25],
      itemGap: 5,
      itemWidth: 10,
      itemHeight: 10,
      backgroundColor: '#fff',
      borderColor: '#000',
      borderWidth: 1.2,
      borderRadius: 0,
      itemStyle: { borderWidth: 1.3 },
      textStyle: { fontSize: 23.4, fontFamily: FONT, color: '#000', padding: [0, 0, 0, 17], lineHeight: 24 },
      selectedMode: false
    },
    grid: [
      { left: 105, top: 65, width: 499, height: 947, containLabel: false, outerBoundsMode: 'none' },
      { left: 807, top: 63, width: 452, height: 395, containLabel: false, outerBoundsMode: 'none', show: true, borderColor: AX, borderWidth: 1.3, backgroundColor: 'transparent' },
      { left: 807, top: 614, width: 451, height: 396, containLabel: false, outerBoundsMode: 'none' }
    ],
    xAxis: [
      {
        gridIndex: 0, type: 'value', min: aXRange[0], max: aXRange[1],
        axisLine: axisLineStyle,
        axisTick: { inside: true, length: 7, customValues: aTicksX, lineStyle: { color: AX, width: 1.3 } },
        axisLabel: { ...labelStyle, margin: 12, customValues: aTicksX, formatter: (v: number) => String(v) },
        splitLine: { show: false },
        name: 'Relative impact', nameLocation: 'middle', nameGap: 44, nameTextStyle: nameStyle, nameMoveOverlap: false
      },
      {
        gridIndex: 1, type: 'value', position: 'bottom', min: bXRange[0], max: bXRange[1],
        axisLine: axisLineStyle,
        axisTick: { inside: true, length: 6, customValues: bTicksX, lineStyle: { color: AX, width: 1.3 } },
        axisLabel: { ...labelStyle, margin: 12, customValues: bTicksX, formatter: (v: number) => String(v) },
        splitLine: { show: false },
        name: 'PRCC', nameLocation: 'middle', nameGap: 44, nameTextStyle: nameStyle, nameMoveOverlap: false
      },
      {
        gridIndex: 1, type: 'value', position: 'top', min: bXRange[0], max: bXRange[1],
        axisLine: axisLineStyle,
        axisTick: { inside: true, length: 6, customValues: bTicksX, lineStyle: { color: AX, width: 1.3 } },
        axisLabel: { show: false },
        splitLine: { show: false }
      },
      {
        gridIndex: 2, type: 'value', min: cXRange[0], max: cXRange[1],
        axisLine: axisLineStyle,
        axisTick: { inside: true, length: 6, customValues: cTicksX, lineStyle: { color: AX, width: 1.3 } },
        axisLabel: { ...labelStyle, margin: 12, customValues: cTicksX, formatter: (v: number) => String(v) },
        splitLine: { show: false },
        name: 'Sensitivity of\nclinical judgement', nameLocation: 'middle', nameGap: 43,
        nameTextStyle: { ...nameStyle, lineHeight: 35 }, nameMoveOverlap: false
      }
    ],
    yAxis: [
      {
        gridIndex: 0, type: 'value', min: aYRange[0], max: aYRange[1], interval: 0.2,
        axisLine: axisLineStyle,
        axisTick: { inside: true, length: 7, lineStyle: { color: AX, width: 1.3 } },
        axisLabel: { ...labelStyle, margin: 9 },
        splitLine: { show: false },
        name: 'Relative cost', nameLocation: 'middle', nameGap: 50, nameRotate: 90, nameTextStyle: nameStyle, nameMoveOverlap: false
      },
      {
        gridIndex: 1, type: 'value', position: 'left', inverse: true, min: bYRange[0], max: bYRange[1],
        axisLine: axisLineStyle,
        axisTick: { inside: true, length: 6, customValues: bTicksY, lineStyle: { color: AX, width: 1.3 } },
        axisLabel: { ...labelStyle, margin: 9, customValues: bTicksY, formatter: (v: number) => bParams[Math.round(v) - 1] || '' },
        splitLine: { show: false }
      },
      {
        gridIndex: 1, type: 'value', position: 'right', inverse: true, min: bYRange[0], max: bYRange[1],
        axisLine: axisLineStyle,
        axisTick: { inside: true, length: 6, customValues: bTicksY, lineStyle: { color: AX, width: 1.3 } },
        axisLabel: { show: false },
        splitLine: { show: false }
      },
      {
        gridIndex: 2, type: 'value', min: cYRange[0], max: cYRange[1],
        axisLine: axisLineStyle,
        axisTick: { inside: true, length: 6, customValues: cTicksY, lineStyle: { color: AX, width: 1.3 } },
        axisLabel: { ...labelStyle, margin: 9, customValues: cTicksY, formatter: (v: number) => String(v) },
        splitLine: { show: false },
        name: 'NAT availability', nameLocation: 'middle', nameGap: 51, nameRotate: 90, nameTextStyle: nameStyle, nameMoveOverlap: false
      }
    ],
    series: [
      // Panel A
      {
        type: 'line', xAxisIndex: 0, yAxisIndex: 0, data: favourableEdge, symbol: 'none', silent: true, z: 1,
        lineStyle: { width: 0 }, areaStyle: { color: '#e3e3e3', opacity: 1 }
      },
      {
        name: legendNames[0], type: 'scatter', xAxisIndex: 0, yAxisIndex: 0, data: orangePts,
        symbol: 'circle', symbolSize: 10, progressive: 0, z: 2, itemStyle: openCircle('#d95319')
      },
      {
        name: legendNames[1], type: 'scatter', xAxisIndex: 0, yAxisIndex: 0, data: bluePts,
        symbol: 'circle', symbolSize: 10, progressive: 0, z: 2, itemStyle: openCircle('#0072bd')
      },
      {
        name: legendNames[2], type: 'scatter', xAxisIndex: 0, yAxisIndex: 0, data: yellowPts,
        symbol: 'circle', symbolSize: 10, progressive: 0, z: 2, itemStyle: openCircle('#efb92c')
      },
      {
        type: 'line', xAxisIndex: 0, yAxisIndex: 0, data: diagLine, symbol: 'none', silent: true, z: 3,
        lineStyle: { color: '#2f86c8', width: 2, type: [2, 5] }
      },
      {
        type: 'line', xAxisIndex: 0, yAxisIndex: 0, data: impactRef, symbol: 'none', silent: true, z: 3,
        lineStyle: { color: '#2f86c8', width: 2, type: [11, 7] }
      },
      {
        type: 'line', xAxisIndex: 0, yAxisIndex: 0, data: costRef, symbol: 'none', silent: true, z: 3,
        lineStyle: { color: '#2f86c8', width: 2, type: [11, 7] }
      },
      // Panel B
      {
        type: 'custom', xAxisIndex: 1, yAxisIndex: 1, silent: true,
        data: bPrcc.map((v, i) => [v, bTicksY[i]]),
        encode: { x: 0, y: 1 },
        renderItem: (_p: any, api: any) => {
          const v = api.value(0);
          const c = api.value(1);
          const p0 = api.coord([0, c]);
          const p1 = api.coord([v, c]);
          const h = api.size([0, 0.8])[1];
          return {
            type: 'rect',
            shape: { x: Math.min(p0[0], p1[0]), y: p0[1] - h / 2, width: Math.abs(p1[0] - p0[0]), height: h },
            style: { fill: '#fdcb4f', stroke: '#111', lineWidth: 1.3 }
          };
        }
      },
      {
        type: 'line', xAxisIndex: 1, yAxisIndex: 1, data: [[0, bYRange[0]], [0, bYRange[1]]], symbol: 'none', silent: true, z: 3,
        lineStyle: { color: '#111', width: 1.3 }
      },
      // Panel C
      {
        type: 'scatter', xAxisIndex: 3, yAxisIndex: 3, data: zipBands(cGreyBands), symbol: 'circle', symbolSize: 6.5,
        progressive: 0, silent: true,
        itemStyle: { color: 'rgba(0,0,0,0)', borderColor: '#d0d0d0', borderWidth: 1 }
      },
      {
        type: 'scatter', xAxisIndex: 3, yAxisIndex: 3, data: zipBands(cBlackBands), symbol: 'circle', symbolSize: 4.2,
        progressive: 0, silent: true,
        itemStyle: { color: '#151515' }
      },
      {
        type: 'line', xAxisIndex: 3, yAxisIndex: 3, data: [[cSensCut, cYRange[0]], [cSensCut, cYRange[1]]], symbol: 'none', silent: true, z: 4,
        lineStyle: { color: '#ff1a1a', width: 2 }
      },
      {
        type: 'line', xAxisIndex: 3, yAxisIndex: 3, data: [[cXRange[0], cAvailCut], [cXRange[1], cAvailCut]], symbol: 'none', silent: true, z: 4,
        lineStyle: { color: '#ff1a1a', width: 2 }
      }
    ]
  };
}

export default function App() {
  const ref = useRef<HTMLDivElement>(null);
  useEffect(() => {
    if (!ref.current) return;
    const chart = echarts.init(ref.current, undefined, { renderer: 'svg' });
    chart.setOption(buildOption() as any);
    return () => chart.dispose();
  }, []);
  return (
    <div
      ref={ref}
      style={{ position: 'absolute', left: 0, top: 0, width: 1295, height: 1377, background: '#fff' }}
    />
  );
}
